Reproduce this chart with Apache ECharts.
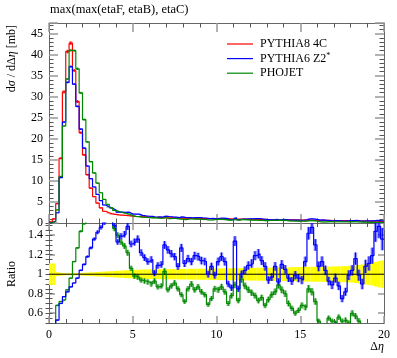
<!DOCTYPE html>
<html><head><meta charset="utf-8">
<script src="https://cdn.jsdelivr.net/npm/echarts@6/dist/echarts.min.js"></script>
<style>html,body{margin:0;padding:0;background:#fff}#c{width:397px;height:358px}</style>
</head><body><div id="c"></div>
<script>
// ---- data ----
const X_MIN = 0, X_MAX = 20, N_BINS = 100;
const seriesNames = ['PYTHIA8 4C', 'PYTHIA6 Z2*', 'PHOJET'];
// PYTHIA8 4C, dsigma/dDeta [mb], 100 bins of 0.2
const pythia8 = [
 0.3,1.0,4.6,15.4,31.2,40.8,42.8,36.3,28.9,21.5,
 16.2,11.5,8.3,6.3,4.75,3.6,2.8,2.4,2.15,2.05,
 1.95,1.88,1.80,1.73,1.66,1.60,1.55,1.50,1.46,1.42,
 1.38,1.35,1.32,1.29,1.26,1.24,1.22,1.20,1.18,1.16,
 1.14,1.12,1.10,1.09,1.07,1.06,1.05,1.04,1.02,1.01,
 1.00,0.99,0.97,0.96,0.95,0.94,0.92,0.91,0.90,0.88,
 0.87,0.86,0.85,0.84,0.82,0.81,0.80,0.79,0.78,0.77,
 0.76,0.74,0.73,0.72,0.71,0.70,0.69,0.68,0.67,0.66,
 0.65,0.64,0.62,0.61,0.60,0.59,0.58,0.57,0.56,0.55,
 0.53,0.52,0.51,0.49,0.48,0.46,0.44,0.42,0.39,0.35];
// PYTHIA6 Z2* / PYTHIA8 4C
const pythia6Ratio = [
 0.30,0.42,0.53,0.70,0.77,0.82,0.87,0.91,0.96,1.04,
 1.10,1.18,1.27,1.36,1.43,1.48,1.53,1.60,1.62,1.50,
 1.33,1.39,1.41,1.49,1.31,1.33,1.36,1.22,1.17,1.13,
 1.15,1.01,1.09,1.10,1.30,1.25,1.21,1.18,1.08,1.27,
 1.11,1.16,1.13,1.19,1.18,1.14,1.13,1.00,1.08,0.99,
 1.13,1.18,1.13,0.90,0.86,1.34,0.85,1.00,1.04,1.09,
 1.11,1.19,1.21,1.14,1.08,0.94,0.97,1.08,0.92,1.10,
 1.05,0.96,0.93,0.99,0.96,0.94,1.13,1.42,1.48,1.30,
 1.08,1.13,1.04,0.93,0.89,0.96,0.88,0.75,0.82,0.99,
 1.04,1.16,0.99,0.90,1.08,1.11,1.19,1.44,1.49,1.36];
// PHOJET / PYTHIA8 4C
const phojetRatio = [
 0.20,0.35,0.68,0.72,0.74,0.84,0.96,1.13,1.27,1.44,
 1.52,1.68,1.76,1.89,2.00,2.00,2.00,1.86,1.71,1.47,
 1.40,1.33,1.29,1.22,1.06,0.98,0.97,0.94,0.93,0.92,
 0.90,0.93,0.87,0.88,1.03,0.84,0.88,0.91,0.85,0.79,
 0.72,0.85,0.90,0.84,0.87,0.82,0.79,0.69,0.75,0.85,
 0.84,0.87,0.82,0.70,0.78,0.89,0.73,0.95,0.88,0.84,
 0.81,0.78,0.73,0.76,0.68,0.74,0.79,0.82,0.89,0.84,
 0.80,0.70,0.65,0.60,0.63,0.68,0.66,0.85,0.82,0.72,
 0.52,0.40,0.45,0.55,0.52,0.50,0.56,0.52,0.53,0.50,
 0.60,0.57,0.52,0.45,0.40,0.35,0.40,0.38,0.35,0.30];
// relative uncertainty of the reference (yellow band half-width)
const refBand = [
 0.11,0.11,0.020,0.015,0.012,0.010,0.010,0.010,0.012,0.013,
 0.015,0.017,0.019,0.021,0.023,0.025,0.027,0.029,0.031,0.033,
 0.035,0.037,0.039,0.041,0.043,0.045,0.046,0.047,0.048,0.049,
 0.050,0.050,0.050,0.051,0.051,0.052,0.052,0.053,0.053,0.054,
 0.054,0.055,0.055,0.056,0.056,0.057,0.057,0.058,0.058,0.059,
 0.060,0.060,0.061,0.061,0.062,0.062,0.063,0.063,0.064,0.064,
 0.065,0.065,0.066,0.066,0.067,0.067,0.068,0.068,0.069,0.069,
 0.070,0.070,0.071,0.072,0.073,0.075,0.075,0.076,0.076,0.077,
 0.077,0.078,0.078,0.079,0.080,0.080,0.081,0.082,0.083,0.084,
 0.085,0.090,0.095,0.100,0.105,0.110,0.115,0.125,0.135,0.140];
const xTicks = [0, 5, 10, 15, 20];
const ratioTicks = [0.6, 0.8, 1, 1.2, 1.4];

// ---- styles ----
const FONT = 'Liberation Serif';
const COLORS = ['#ff0000', '#0000ff', '#008800'];
const BOXES = ['rgba(255,0,0,0.40)', 'rgba(40,40,255,0.50)', 'rgba(0,136,0,0.45)'];
const ERR_SCALE = 0.6;

const binW = (X_MAX - X_MIN) / N_BINS;
const pythia6 = pythia8.map((v, i) => v * pythia6Ratio[i]);
const phojet = pythia8.map((v, i) => v * phojetRatio[i]);

function stepData(vals) {
  const d = vals.map((v, i) => [X_MIN + i * binW, v]);
  d.push([X_MAX, vals[vals.length - 1]]);
  return d;
}
function stepSeries(vals, color, xi, yi) {
  return {type: 'line', xAxisIndex: xi, yAxisIndex: yi, step: 'end', showSymbol: false,
    symbol: 'none', clip: true, silent: true, animation: false,
    lineStyle: {color: color, width: 1.2}, data: stepData(vals)};
}
function boxSeries(vals, rel, fill, stroke, xi, yi) {
  return {type: 'custom', xAxisIndex: xi, yAxisIndex: yi, clip: true, silent: true, animation: false,
    renderItem: function (params, api) {
      const x0 = api.value(0), x1 = api.value(1), lo = api.value(2), hi = api.value(3);
      const p0 = api.coord([x0, hi]), p1 = api.coord([x1, lo]);
      const xm = api.coord([(x0 + x1) / 2, hi])[0];
      const children = [{type: 'rect', shape: {x: p0[0], y: p0[1], width: p1[0] - p0[0], height: Math.max(p1[1] - p0[1], 0.8)},
        style: {fill: fill}}];
      if (stroke) children.push({type: 'line', shape: {x1: xm, y1: p0[1], x2: xm, y2: p1[1]}, style: {stroke: stroke, lineWidth: 1}});
      return {type: 'group', children: children};
    },
    data: vals.map((v, i) => {
      const e = v * rel[i];
      return [X_MIN + i * binW, X_MIN + (i + 1) * binW, v - e, v + e];
    })};
}
const scaledErr = refBand.map(e => e * ERR_SCALE);

const lineStyleAx = {color: '#666', width: 1};
const majorTickStyle = {color: '#999', width: 1.5};
const minorTickStyle = {color: '#555', width: 1};
function xAx(grid, pos, labels, majLen, minLen) {
  return {type: 'value', gridIndex: grid, position: pos, min: X_MIN, max: X_MAX, interval: 5,
    axisLine: {show: true, onZero: false, lineStyle: lineStyleAx},
    axisTick: {show: true, inside: true, length: majLen, lineStyle: majorTickStyle},
    minorTick: {show: true, splitNumber: 5, length: minLen, lineStyle: minorTickStyle},
    axisLabel: {show: labels, margin: 6, fontFamily: FONT, fontSize: 12, color: '#000',
      customValues: xTicks},
    splitLine: {show: false}};
}
function yTop(pos, labels) {
  return {type: 'value', gridIndex: 0, position: pos, min: 0, max: 47.6, interval: 5,
    axisLine: {show: true, onZero: false, lineStyle: lineStyleAx},
    axisTick: {show: true, inside: true, length: 9, lineStyle: majorTickStyle},
    minorTick: {show: true, splitNumber: 5, length: 4.5, lineStyle: minorTickStyle},
    axisLabel: {show: labels, margin: 6, fontFamily: FONT, fontSize: 12, color: '#000', showMaxLabel: false},
    splitLine: {show: false}};
}
function yRatioMajor(pos, labels) {
  return {type: 'value', gridIndex: 1, position: pos, min: 0.5, max: 1.525, interval: 0.05,
    axisLine: {show: true, onZero: false, lineStyle: lineStyleAx},
    axisTick: {show: true, inside: true, length: 6, lineStyle: majorTickStyle, customValues: ratioTicks},
    axisLabel: {show: labels, margin: 6, fontFamily: FONT, fontSize: 12, color: '#000', customValues: ratioTicks},
    splitLine: {show: false}};
}
function yRatioMinor(pos) {
  return {type: 'value', gridIndex: 1, position: pos, min: 0.5, max: 1.525, interval: 0.05,
    axisLine: {show: false},
    axisTick: {show: true, inside: true, length: 3.5, lineStyle: minorTickStyle},
    axisLabel: {show: false}, splitLine: {show: false}};
}

const chart = echarts.init(document.getElementById('c'), null, {renderer: 'canvas'});
chart.setOption({
  animation: false,
  backgroundColor: '#fff',
  grid: [
    {left: 49, top: 23, width: 335, height: 200},
    {left: 49, top: 223, width: 335, height: 100}
  ],
  xAxis: [xAx(0, 'bottom', false, 9, 4.5), xAx(0, 'top', false, 9, 4.5),
          xAx(1, 'bottom', true, 7, 4), xAx(1, 'top', false, 7, 4)],
  yAxis: [yTop('left', true), yTop('right', false),
          yRatioMajor('left', true), yRatioMinor('left'),
          yRatioMajor('right', false), yRatioMinor('right')],
  series: [
    boxSeries(pythia8, refBand, BOXES[0], COLORS[0], 0, 0),
    boxSeries(pythia6, scaledErr, BOXES[1], COLORS[1], 0, 0),
    boxSeries(phojet, scaledErr, BOXES[2], COLORS[2], 0, 0),
    stepSeries(pythia8, COLORS[0], 0, 0),
    stepSeries(pythia6, COLORS[1], 0, 0),
    stepSeries(phojet, COLORS[2], 0, 0),
    boxSeries(pythia8.map(() => 1), refBand, '#ffff00', null, 2, 2),
    {type: 'line', xAxisIndex: 2, yAxisIndex: 2, showSymbol: false, symbol: 'none', silent: true,
      lineStyle: {color: '#000', width: 1}, data: [[X_MIN, 1], [X_MAX, 1]]},
    boxSeries(phojetRatio, scaledErr, BOXES[2], COLORS[2], 2, 2),
    boxSeries(pythia6Ratio, scaledErr, BOXES[1], COLORS[1], 2, 2),
    stepSeries(phojetRatio, COLORS[2], 2, 2),
    stepSeries(pythia6Ratio, COLORS[1], 2, 2)
  ],
  graphic: [
    {type: 'text', left: 50, top: 3, style: {text: 'max(max(etaF, etaB), etaC)', fontFamily: FONT, fontSize: 12.5, fill: '#000'}},
    {type: 'text', x: 12, y: 25, rotation: Math.PI / 2,
      style: {text: '{n|d}{i|σ}{n| / d}{n|Δ}{i|η}{n| [mb]}', align: 'right', verticalAlign: 'middle',
        fontFamily: FONT, fontSize: 12, fill: '#000',
        rich: {n: {fontFamily: FONT, fontSize: 12, fill: '#000'}, i: {fontFamily: FONT, fontSize: 12, fontStyle: 'italic', fill: '#000'}}}},
    {type: 'text', x: 12, y: 274, rotation: Math.PI / 2,
      style: {text: 'Ratio', align: 'center', verticalAlign: 'middle', fontFamily: FONT, fontSize: 12, fill: '#000'}},
    {type: 'text', x: 384, y: 347,
      style: {text: '{n|Δ}{i|η}', align: 'right', verticalAlign: 'middle', fontFamily: FONT, fontSize: 12, fill: '#000',
        rich: {n: {fontFamily: FONT, fontSize: 12, fill: '#000'}, i: {fontFamily: FONT, fontSize: 12, fontStyle: 'italic', fill: '#000'}}}},
    ...seriesNames.map((nm, k) => ({type: 'line', shape: {x1: 227, y1: 44 + k * 14.6, x2: 253, y2: 44 + k * 14.6},
      style: {stroke: COLORS[k], lineWidth: 1.2}})),
    {type: 'text', x: 260, y: 44, style: {text: seriesNames[0], verticalAlign: 'middle', fontFamily: FONT, fontSize: 12, fill: '#000'}},
    {type: 'text', x: 260, y: 58.6, style: {text: '{n|PYTHIA6 Z2}{s|*}', verticalAlign: 'middle', fontFamily: FONT, fontSize: 12, fill: '#000',
      rich: {n: {fontFamily: FONT, fontSize: 12, fill: '#000', lineHeight: 14}, s: {fontFamily: FONT, fontSize: 8, fill: '#000', verticalAlign: 'top', lineHeight: 14}}}},
    {type: 'text', x: 260, y: 73.2, style: {text: seriesNames[2], verticalAlign: 'middle', fontFamily: FONT, fontSize: 12, fill: '#000'}}
  ]
});
</script></body></html>
